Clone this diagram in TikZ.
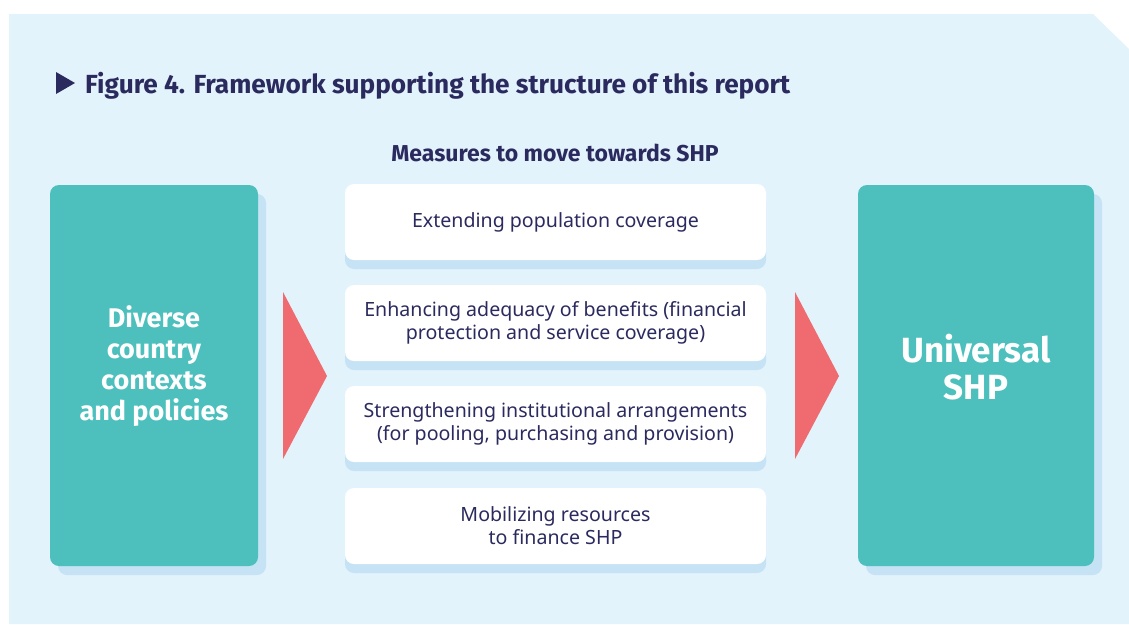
\documentclass[tikz,border=0pt]{standalone}
\usepackage{fontspec}
\setmainfont{Noto Sans}
\newfontfamily\headfont{Fira Sans}
\usetikzlibrary{shadows}

\definecolor{panelblue}{HTML}{E3F3FB}
\definecolor{shadeblue}{HTML}{C5E3F5}
\definecolor{tealbox}{HTML}{4DC0BD}
\definecolor{arrowred}{HTML}{EF6B6F}
\definecolor{navytext}{HTML}{2B2A5F}

\begin{document}
\begin{tikzpicture}[x=1pt,y=-1pt,
    sidebox/.style={rectangle,rounded corners=9pt,fill=tealbox,minimum height=381pt,
        general shadow={fill=shadeblue,shadow xshift=8pt,shadow yshift=-9pt}},
    sidetext/.style={text=white,align=center,font=\headfont\bfseries},
    measurebox/.style={rectangle,rounded corners=9pt,fill=white,minimum width=421pt,minimum height=76pt,
        text=navytext,align=center,font=\fontsize{19.6}{23}\selectfont,
        general shadow={fill=shadeblue,shadow xshift=0pt,shadow yshift=-9pt}}]

    \useasboundingbox (0,0) rectangle (1129,624);
    \fill[panelblue] (9,14) -- (1093,14) -- (1129,49) -- (1129,624) -- (9,624) -- cycle;

    % heading
    \fill[navytext] (56,72) -- (75,83) -- (56,94) -- cycle;
    \node[anchor=base west,text=navytext,font=\headfont\bfseries\fontsize{26.2}{30}\selectfont,inner sep=0pt] (title) at (85,93)
        {Figure 4. Framework supporting the structure of this report};
    \node[anchor=base,text=navytext,font=\headfont\bfseries\fontsize{23}{26}\selectfont,inner sep=0pt] (sub) at (555,161)
        {Measures to move towards SHP};

    % side boxes
    \node[sidebox,minimum width=208pt] (diverse) at (154,375.5) {};
    \node[sidebox,minimum width=236pt] (universal) at (976,375.5) {};
    \node[sidetext,font=\headfont\bfseries\fontsize{27}{31}\selectfont] (diversetxt) at (154,366)
        {Diverse\\country\\contexts\\and policies};
    \node[sidetext,font=\headfont\bfseries\fontsize{35}{37}\selectfont] (universaltxt) at (976,367)
        {Universal\\SHP};

    % measures
    \node[measurebox] (cover) at (555.5,222) {Extending population coverage};
    \node[measurebox] (benefit) at (555.5,323) {Enhancing adequacy of benefits (financial\\protection and service coverage)};
    \node[measurebox] (institute) at (555.5,424) {Strengthening institutional arrangements\\(for pooling, purchasing and provision)};
    \node[measurebox] (finance) at (555.5,526) {Mobilizing resources\\to finance SHP};

    % arrows
    \fill[arrowred] (283,292) -- (327,376) -- (283,459) -- cycle;
    \fill[arrowred] (795,292) -- (839,376) -- (795,459) -- cycle;
\end{tikzpicture}
\end{document}
